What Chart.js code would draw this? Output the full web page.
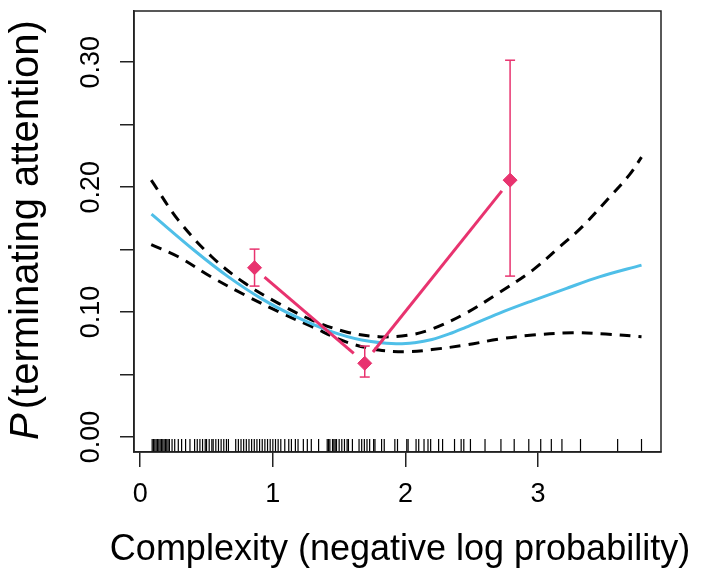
<!DOCTYPE html>
<html>
<head>
<meta charset="utf-8">
<script src="https://cdn.jsdelivr.net/npm/chart.js@4.4.1/dist/chart.umd.min.js"></script>
<style>
  html, body { margin: 0; padding: 0; background: #fff; }
  #wrap { width: 701px; height: 573px; }
</style>
</head>
<body>
<div id="wrap"><canvas id="chart" width="701" height="573"></canvas></div>
<script>
// values
const fitX      = [0.085, 0.413, 0.665, 0.917, 1.169, 1.42, 1.67, 1.93, 2.07, 2.2, 2.33, 2.454, 2.706, 2.96, 3.21, 3.462, 3.78];
const fitValues = [0.1784, 0.1489, 0.1282, 0.1106, 0.0965, 0.0852, 0.0777, 0.0746, 0.0755, 0.078, 0.0825, 0.0878, 0.099, 0.1092, 0.1188, 0.1282, 0.1376];

const upperX  = [0.083, 0.287, 0.539, 0.79, 1.043, 1.295, 1.547, 1.8, 2.026, 2.2, 2.454, 2.706, 2.96, 3.16, 3.33, 3.54, 3.69, 3.78];
const upperCI = [0.2056, 0.1736, 0.1443, 0.123, 0.107, 0.0936, 0.0843, 0.0803, 0.0816, 0.0864, 0.099, 0.1155, 0.1336, 0.152, 0.168, 0.192, 0.210, 0.224];

const lowerX  = [0.083, 0.287, 0.539, 0.79, 1.043, 1.295, 1.547, 1.8, 2.026, 2.2, 2.454, 2.706, 2.96, 3.26, 3.51, 3.78];
const lowerCI = [0.154, 0.1443, 0.128, 0.1136, 0.1003, 0.0883, 0.0763, 0.0696, 0.0683, 0.070, 0.0736, 0.0784, 0.0816, 0.0834, 0.0824, 0.0803];

const binX     = [0.862, 1.693, 2.789];
const binMeans = [0.1355, 0.059, 0.2056];
const binLow   = [0.1208, 0.048, 0.1288];
const binHigh  = [0.1504, 0.0728, 0.3016];

const seg1X = [0.937, 1.610];
const seg1Y = [0.128, 0.067];
const seg2X = [1.755, 2.727];
const seg2Y = [0.068, 0.197];

const rugX = [0.09, 0.10, 0.11, 0.12, 0.13, 0.14, 0.15, 0.16, 0.17, 0.18, 0.19, 0.20, 0.21, 0.22, 0.24, 0.26,
  0.287, 0.312, 0.342, 0.375, 0.41, 0.43, 0.45, 0.47, 0.49, 0.50, 0.52, 0.54, 0.55, 0.57, 0.59, 0.61, 0.63, 0.65, 0.665,
  0.72, 0.74, 0.76, 0.78, 0.80, 0.82, 0.84, 0.86, 0.88, 0.90, 0.92, 0.94, 0.96, 0.98, 1.00, 1.02, 1.04, 1.06, 1.09,
  1.12, 1.14, 1.17, 1.19, 1.23, 1.26, 1.29, 1.345, 1.41, 1.42, 1.43, 1.45, 1.46, 1.47, 1.48, 1.50, 1.52, 1.54, 1.56,
  1.57, 1.60, 1.65, 1.67, 1.69, 1.71, 1.73, 1.76, 1.77, 1.82, 1.84, 1.92, 1.94, 2.01, 2.02, 2.08, 2.10, 2.14, 2.17,
  2.19, 2.25, 2.28, 2.37, 2.42, 2.44, 2.49, 2.60, 2.72, 2.82, 2.93, 3.02, 3.10, 3.18, 3.32, 3.60, 3.78];
const rugY = -0.0068;

const xTicks  = [0, 1, 2, 3];
const yTicks  = [0, 0.05, 0.10, 0.15, 0.20, 0.25, 0.30];
const yLabels = [0, 0.10, 0.20, 0.30];

const PINK = '#e8336f';
const BLUE = '#4fbfe8';
const FONT = '"Liberation Sans", Arial, Helvetica, sans-serif';

const pts = (xs, ys) => xs.map((x, i) => ({ x: x, y: ys[i] }));

const errorBars = binX.map((x, i) => ({
  data: [{ x: x, y: binLow[i] }, { x: x, y: binHigh[i] }],
  borderColor: PINK,
  borderWidth: 1.5,
  showLine: true,
  pointStyle: 'line',
  pointRadius: 5,
  pointBorderWidth: 1.5,
  pointBorderColor: PINK,
}));

// box, y tick labels and axis titles
const decor = {
  id: 'decor',
  afterDraw(chart) {
    const ctx = chart.ctx;
    const a = chart.chartArea;
    const ys = chart.scales.y;
    ctx.save();
    ctx.strokeStyle = '#222';
    ctx.lineWidth = 1.5;
    ctx.strokeRect(a.left, a.top, a.right - a.left, a.bottom - a.top);

    ctx.fillStyle = '#000';
    ctx.font = '27px ' + FONT;
    ctx.textAlign = 'center';
    ctx.textBaseline = 'alphabetic';
    yLabels.forEach(v => {
      ctx.save();
      ctx.translate(99, ys.getPixelForValue(v));
      ctx.rotate(-Math.PI / 2);
      ctx.fillText(v.toFixed(2), 0, 0);
      ctx.restore();
    });

    // y title with italic P
    ctx.save();
    ctx.translate(38, 230);
    ctx.rotate(-Math.PI / 2);
    ctx.textAlign = 'left';
    ctx.font = 'italic 40px ' + FONT;
    const wp = ctx.measureText('P').width;
    ctx.font = '40px ' + FONT;
    const rest = '(terminating attention)';
    const wr = ctx.measureText(rest).width;
    const gap = 4;
    const start = -(wp + gap + wr) / 2;
    ctx.font = 'italic 40px ' + FONT;
    ctx.fillText('P', start, 0);
    ctx.font = '40px ' + FONT;
    ctx.fillText(rest, start + wp + gap, 0);
    ctx.restore();

    // x title
    ctx.font = '36px ' + FONT;
    ctx.textAlign = 'center';
    ctx.fillText('Complexity (negative log probability)', 400, 560);
    ctx.restore();
  }
};

new Chart(document.getElementById('chart'), {
  type: 'scatter',
  data: {
    datasets: [
      {
        data: pts(binX, binMeans),
        pointStyle: 'rectRot',
        pointRadius: 7,
        backgroundColor: PINK,
        borderColor: PINK,
        borderWidth: 1,
      },
      ...errorBars,
      {
        data: pts(seg1X, seg1Y),
        showLine: true,
        borderColor: PINK,
        borderWidth: 3,
        pointRadius: 0,
      },
      {
        data: pts(seg2X, seg2Y),
        showLine: true,
        borderColor: PINK,
        borderWidth: 3,
        pointRadius: 0,
      },
      {
        data: pts(fitX, fitValues),
        showLine: true,
        borderColor: BLUE,
        borderWidth: 3,
        pointRadius: 0,
        tension: 0.35,
      },
      {
        data: pts(upperX, upperCI),
        showLine: true,
        borderColor: '#000',
        borderWidth: 3,
        borderDash: [11, 8],
        pointRadius: 0,
        tension: 0.35,
      },
      {
        data: pts(lowerX, lowerCI),
        showLine: true,
        borderColor: '#000',
        borderWidth: 3,
        borderDash: [11, 8],
        pointRadius: 0,
        tension: 0.35,
      },
      {
        data: rugX.map(x => ({ x: x, y: rugY })),
        pointStyle: 'line',
        rotation: 90,
        pointRadius: 6.5,
        borderColor: '#000',
        borderWidth: 1.2,
      },
    ],
  },
  options: {
    responsive: false,
    animation: false,
    events: [],
    layout: { padding: { left: 0, top: 11, right: 40, bottom: 0 } },
    plugins: { legend: { display: false }, tooltip: { enabled: false } },
    scales: {
      x: {
        type: 'linear',
        min: -0.047,
        max: 3.927,
        afterBuildTicks: s => { s.ticks = xTicks.map(v => ({ value: v })); },
        afterFit: s => { s.height = 121; },
        ticks: {
          font: { size: 27, family: FONT },
          color: '#000',
          padding: 11,
          maxRotation: 0,
          callback: v => String(v),
        },
        grid: { drawOnChartArea: false, drawTicks: true, tickLength: 15, color: '#222', lineWidth: 1.5 },
        border: { display: true, color: '#222', width: 1.5 },
      },
      y: {
        type: 'linear',
        min: -0.012,
        max: 0.341,
        afterBuildTicks: s => { s.ticks = yTicks.map(v => ({ value: v })); },
        afterFit: s => { s.width = 134; },
        ticks: { display: false },
        grid: { drawOnChartArea: false, drawTicks: true, tickLength: 14, color: '#222', lineWidth: 1.5 },
        border: { display: true, color: '#222', width: 1.5 },
      },
    },
  },
  plugins: [decor],
});
</script>
</body>
</html>
